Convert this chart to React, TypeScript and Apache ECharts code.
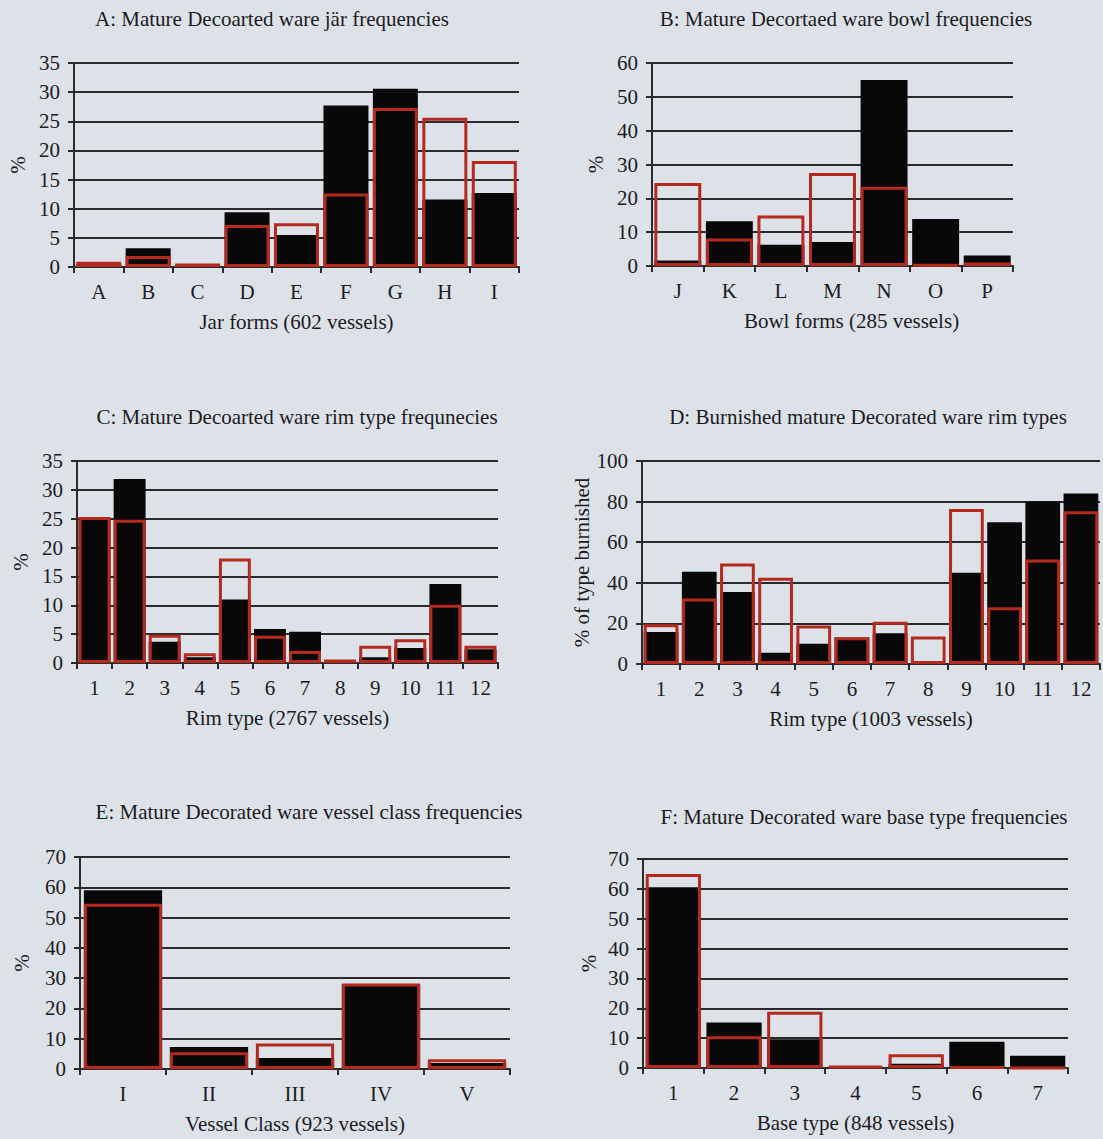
import React, { useEffect, useRef } from "react";
import * as echarts from "echarts";

// ---- Data ----
const jarCats = ["A", "B", "C", "D", "E", "F", "G", "H", "I"];
const jarBlack = [0.5, 3.2, 0.3, 9.4, 5.5, 27.7, 30.6, 11.6, 12.7];
const jarRed = [0.9, 1.9, 0.6, 7.2, 7.5, 12.6, 27.3, 25.6, 18.2];

const bowlCats = ["J", "K", "L", "M", "N", "O", "P"];
const bowlBlack = [1.6, 13.2, 6.3, 7.1, 55, 13.9, 3.1];
const bowlRed = [24.5, 8.1, 14.9, 27.5, 23.4, 0.4, 1];

const rimCats = ["1", "2", "3", "4", "5", "6", "7", "8", "9", "10", "11", "12"];
const rimBlack = [25.1, 31.9, 3.7, 1, 11, 5.9, 5.4, 0.2, 1, 2.6, 13.7, 2.4];
const rimRed = [25.3, 24.8, 4.9, 1.7, 18.1, 4.7, 2.1, 0.6, 3, 4.1, 10.1, 3];

const burnCats = ["1", "2", "3", "4", "5", "6", "7", "8", "9", "10", "11", "12"];
const burnBlack = [15.8, 45.5, 35.5, 5.5, 10, 13, 15.2, 0, 45, 69.8, 80, 84];
const burnRed = [19.6, 32.3, 49.5, 42.5, 19, 13.2, 20.8, 13.6, 76.4, 28, 51.5, 75.3];

const classCats = ["I", "II", "III", "IV", "V"];
const classBlack = [59, 7.3, 3.6, 28, 2];
const classRed = [54.6, 5.5, 8.4, 28.2, 3.2];

const baseCats = ["1", "2", "3", "4", "5", "6", "7"];
const baseBlack = [60.5, 15.2, 9.6, 0.3, 1.4, 8.8, 4.1];
const baseRed = [65, 10.6, 18.8, 0.6, 4.6, 0.3, 0];

const yMaxes = [35, 60, 35, 100, 70, 70];
const yIntervals = [5, 10, 5, 20, 10, 10];

const titles = [
  "A: Mature Decoarted ware jär frequencies",
  "B: Mature Decortaed ware bowl frequencies",
  "C: Mature Decoarted ware rim type frequnecies",
  "D: Burnished mature Decorated ware rim types",
  "E: Mature Decorated ware vessel class frequencies",
  "F: Mature Decorated ware base type frequencies",
];
const xNames = [
  "Jar forms (602 vessels)",
  "Bowl forms (285 vessels)",
  "Rim type (2767 vessels)",
  "Rim type (1003 vessels)",
  "Vessel Class (923 vessels)",
  "Base type (848 vessels)",
];
const yNames = ["%", "%", "%", "% of type burnished", "%", "%"];

const catsList = [jarCats, bowlCats, rimCats, burnCats, classCats, baseCats];
const blackList = [jarBlack, bowlBlack, rimBlack, burnBlack, classBlack, baseBlack];
const redList = [jarRed, bowlRed, rimRed, burnRed, classRed, baseRed];

// ---- Layout (pixels) ----
const grids = [
  { left: 74, top: 63, width: 445, height: 204 },
  { left: 652, top: 63, width: 361, height: 203 },
  { left: 77, top: 461, width: 421, height: 202 },
  { left: 642, top: 461, width: 458, height: 203 },
  { left: 80, top: 857, width: 430, height: 212 },
  { left: 643, top: 859, width: 425, height: 209 },
];
const titlePos = [
  [272, 19],
  [846, 19],
  [297, 417],
  [868, 417],
  [309, 812],
  [864, 817],
];
const yNameGaps = [46, 46, 46, 50, 48, 44];
const xNamePad = [0, 38, 0, 0, 0, 0];

const FONT = '"Liberation Serif", "DejaVu Serif", serif';
const TEXT = "#1b1b1d";
const LINE = "#2b2b2e";
const RED = "#b42a1f";
const BG = "#dde2e9";

export default function App() {
  const ref = useRef<HTMLDivElement>(null);
  useEffect(() => {
    if (!ref.current) return;
    const chart = echarts.init(ref.current, undefined, { renderer: "svg" });
    const xAxis: any[] = [];
    const yAxis: any[] = [];
    const series: any[] = [];
    const graphic: any[] = [];
    for (let i = 0; i < 6; i++) {
      xAxis.push({
        type: "category",
        gridIndex: i,
        data: catsList[i],
        name: xNames[i],
        nameLocation: "middle",
        nameGap: 44,
        nameTextStyle: {
          fontFamily: FONT,
          fontSize: 21,
          color: TEXT,
          padding: [0, 0, 0, xNamePad[i]],
        },
        axisLine: { show: true, lineStyle: { color: LINE, width: 2 } },
        axisTick: { show: true, length: 6, lineStyle: { color: LINE, width: 2 } },
        axisLabel: { fontFamily: FONT, fontSize: 21, color: TEXT, margin: 14 },
        splitLine: { show: false },
      });
      yAxis.push({
        type: "value",
        gridIndex: i,
        min: 0,
        max: yMaxes[i],
        interval: yIntervals[i],
        name: yNames[i],
        nameLocation: "middle",
        nameGap: yNameGaps[i],
        nameRotate: 90,
        nameTextStyle: { fontFamily: FONT, fontSize: 21, color: TEXT },
        axisLine: { show: true, lineStyle: { color: LINE, width: 2 } },
        axisTick: { show: true, length: 6, lineStyle: { color: LINE, width: 2 } },
        axisLabel: { fontFamily: FONT, fontSize: 21, color: TEXT, margin: 14 },
        splitLine: { show: true, lineStyle: { color: LINE, width: 2 } },
      });
      series.push({
        type: "bar",
        xAxisIndex: i,
        yAxisIndex: i,
        data: blackList[i],
        barCategoryGap: "9%",
        itemStyle: { color: "#080808" },
        z: 2,
      });
      series.push({
        type: "bar",
        xAxisIndex: i,
        yAxisIndex: i,
        data: redList[i],
        barGap: "-100%",
        barCategoryGap: "9%",
        itemStyle: { color: "rgba(0,0,0,0)", borderColor: RED, borderWidth: 3 },
        z: 3,
      });
      graphic.push({
        type: "text",
        x: titlePos[i][0],
        y: titlePos[i][1],
        style: {
          text: titles[i],
          fontFamily: FONT,
          fontSize: 21,
          fill: TEXT,
          align: "center",
          verticalAlign: "middle",
        },
      });
    }
    chart.setOption({
      animation: false,
      backgroundColor: BG,
      grid: grids.map((g) => ({ ...g, containLabel: false })),
      xAxis,
      yAxis,
      series,
      graphic,
    });
    return () => chart.dispose();
  }, []);
  return (
    <div
      ref={ref}
      style={{ position: "fixed", left: 0, top: 0, width: 1103, height: 1139 }}
    />
  );
}
